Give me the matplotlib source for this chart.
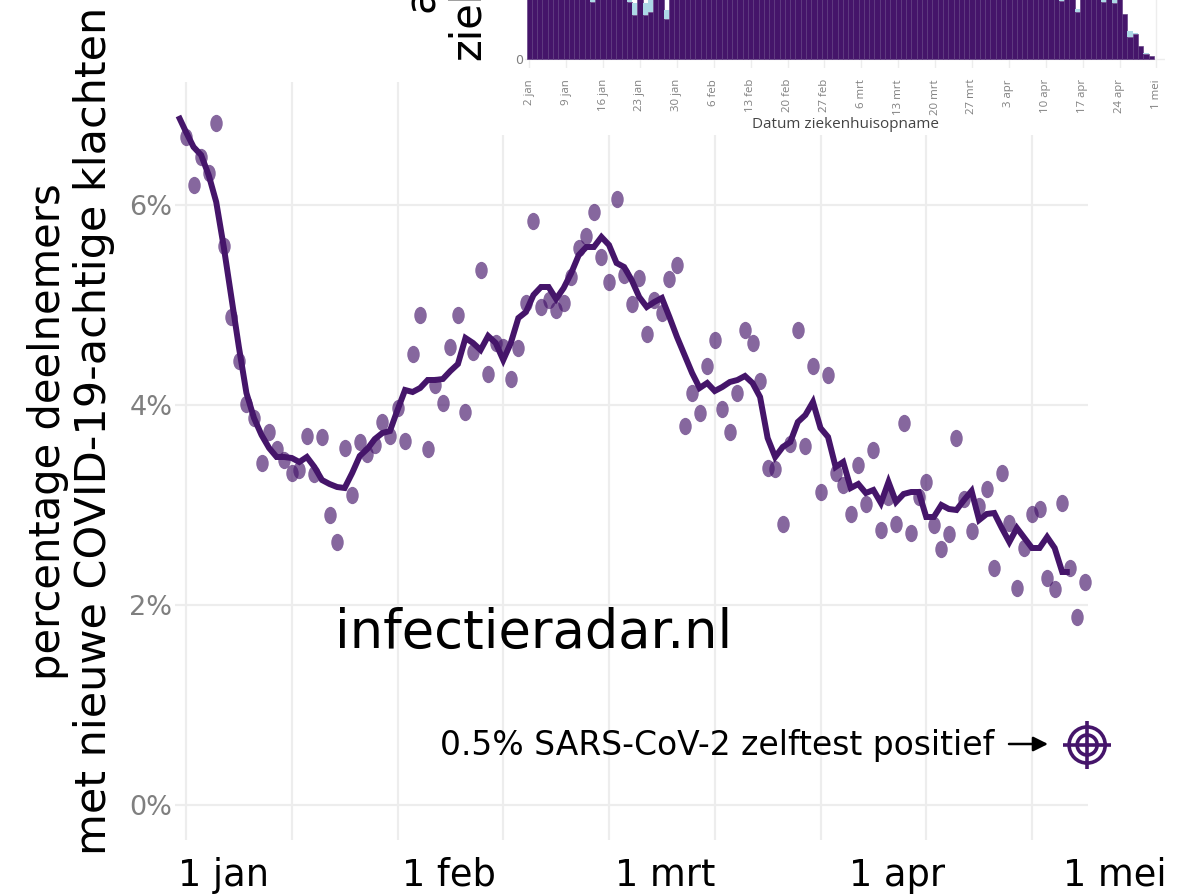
import matplotlib
matplotlib.use("Agg")
import matplotlib.pyplot as plt
from matplotlib.patches import Rectangle
from matplotlib.path import Path
from matplotlib.transforms import Affine2D

plt.rcParams["font.family"] = ["DejaVu Sans"]

W, H = 1189, 896
PURPLE = "#45156A"
GRID = "#EDEDED"
GREY = "#7F7F7F"

# ---- main chart data: daily share of participants (%) ----
points_pct = [
    6.68, 6.20, 6.48, 6.32, 6.82, 5.59, 4.88, 4.44, 4.01, 3.87,
    3.42, 3.73, 3.56, 3.45, 3.32, 3.35, 3.69, 3.31, 3.68, 2.90,
    2.63, 3.57, 3.10, 3.63, 3.51, 3.60, 3.83, 3.69, 3.97, 3.64,
    4.51, 4.90, 3.56, 4.20, 4.02, 4.58, 4.90, 3.93, 4.53, 5.35,
    4.31, 4.62, 4.58, 4.26, 4.57, 5.02, 5.84, 4.98, 5.05, 4.95,
    5.02, 5.28, 5.57, 5.69, 5.93, 5.48, 5.23, 6.06, 5.30, 5.01,
    5.27, 4.71, 5.05, 4.92, 5.26, 5.40, 3.79, 4.12, 3.92, 4.39,
    4.65, 3.96, 3.73, 4.12, 4.75, 4.62, 4.24, 3.37, 3.36, 2.81,
    3.61, 4.75, 3.59, 4.39, 3.13, 4.30, 3.32, 3.20, 2.91, 3.40,
    3.01, 3.55, 2.75, 3.08, 2.81, 3.82, 2.72, 3.08, 3.23, 2.80,
    2.56, 2.71, 3.67, 3.06, 2.74, 2.99, 3.16, 2.37, 3.32, 2.82,
    2.17, 2.57, 2.91, 2.96, 2.27, 2.16, 3.02, 2.37, 1.88, 2.23,
]
trend_pct = [
    6.89, 6.73, 6.58, 6.50, 6.30, 6.03, 5.58, 5.08, 4.58, 4.12,
    3.87, 3.70, 3.57, 3.48, 3.48, 3.47, 3.43, 3.48, 3.38, 3.25,
    3.21, 3.18, 3.17, 3.32, 3.49, 3.56, 3.66, 3.72, 3.74, 3.95,
    4.15, 4.13, 4.17, 4.25, 4.25, 4.26, 4.34, 4.41, 4.67, 4.62,
    4.55, 4.69, 4.62, 4.45, 4.62, 4.87, 4.93, 5.10, 5.18, 5.18,
    5.06, 5.17, 5.32, 5.50, 5.58, 5.58, 5.68, 5.60, 5.42, 5.38,
    5.25, 5.08, 4.98, 5.03, 5.07, 4.88, 4.68, 4.50, 4.32, 4.17,
    4.22, 4.14, 4.18, 4.23, 4.25, 4.29, 4.22, 4.08, 3.67, 3.48,
    3.58, 3.63, 3.83, 3.90, 4.03, 3.77, 3.68, 3.38, 3.43, 3.17,
    3.21, 3.12, 3.15, 3.02, 3.23, 3.03, 3.11, 3.13, 3.13, 2.88,
    2.88, 3.00, 2.96, 2.95, 3.05, 3.14, 2.85, 2.91, 2.92, 2.77,
    2.63, 2.77, 2.67, 2.57, 2.57, 2.68, 2.57, 2.33, 2.33,
]
grid_days = [0, 14, 28, 42, 56, 70, 84, 98, 112]
y_ticks = [0, 2, 4, 6]
y_tick_labels = ["0%", "2%", "4%", "6%"]
month_labels = ["1 jan", "1 feb", "1 mrt", "1 apr", "1 mei"]
month_label_days = [4.9, 34.8, 63.4, 94.1, 123.0]
selftest_day = 119.3
selftest_pct = 0.6

# ---- inset data: hospital admissions per day (above the crop: estimates) ----
adm_dark = [
    66, 64, 68, 65, 63, 67, 70, 66, 64, 62, 65, 68, 57, 63, 66, 64, 62, 67, 65, 57,
    44, 62, 44, 47, 64, 66, 40, 63, 65, 68, 66, 64, 62, 67, 65, 63, 68, 66, 64, 62,
    65, 67, 63, 66, 64, 68, 62, 65, 63, 67, 66, 64, 62, 65, 68, 63, 66, 64, 67, 62,
    65, 63, 68, 66, 64, 62, 67, 65, 63, 66, 64, 68, 62, 65, 67, 63, 66, 64, 62, 65,
    68, 63, 66, 64, 67, 62, 65, 63, 68, 66, 64, 62, 67, 65, 63, 66, 64, 68, 62, 65,
    63, 58, 66, 64, 47, 65, 63, 62, 64, 57, 63, 56, 62, 45, 22, 25, 13, 5, 3,
]
adm_light = [
    0, 0, 0, 0, 0, 0, 0, 0, 0, 0, 0, 0, 4, 0, 0, 0, 0, 0, 0, 4,
    12, 0, 12, 14, 0, 0, 9, 0, 0, 0, 0, 0, 0, 0, 0, 0, 0, 0, 0, 0,
    0, 0, 0, 0, 0, 0, 0, 0, 0, 0, 0, 0, 0, 0, 0, 0, 0, 0, 0, 0,
    0, 0, 0, 0, 0, 0, 0, 0, 0, 0, 0, 0, 0, 0, 0, 0, 0, 0, 0, 0,
    0, 0, 0, 0, 0, 0, 0, 0, 0, 0, 0, 0, 0, 0, 0, 0, 0, 0, 0, 0,
    0, 3, 0, 0, 3, 0, 0, 0, 0, 4, 0, 5, 0, 0, 6, 1.5, 0, 1.5, 0,
]
week_days = [0, 7, 14, 21, 28, 35, 42, 49, 56, 63, 70, 77, 84, 91, 98, 105, 112, 119]
week_labels = ["2 jan", "9 jan", "16 jan", "23 jan", "30 jan", "6 feb", "13 feb", "20 feb",
               "27 feb", "6 mrt", "13 mrt", "20 mrt", "27 mrt", "3 apr", "10 apr",
               "17 apr", "24 apr", "1 mei"]


def fx(px):
    return px / W


def fy(py):
    return 1 - py / H


fig = plt.figure(figsize=(W / 100, H / 100), dpi=100, facecolor="white")

# ---------- main axes ----------
left, right, top, bottom = 175, 1088, 82, 840
ax = fig.add_axes([fx(left), fy(bottom), fx(right - left), (bottom - top) / H])
PX_DAY = 105.75 / 14
for s in ax.spines.values():
    s.set_visible(False)
ax.set_xticks(grid_days)
ax.set_xticklabels([])
ax.set_yticks(y_ticks, y_tick_labels)
ax.tick_params(axis="x", which="major", length=0)
ax.tick_params(axis="y", length=0, pad=2, labelsize=19.5, labelcolor=GREY)
ax.grid(True, which="major", color=GRID, linewidth=1.6)
ax.set_axisbelow(True)

dot = Path.unit_circle().transformed(Affine2D().scale(0.72, 1.0))
ax.scatter(range(len(points_pct)), points_pct, marker=dot, s=155, color=PURPLE,
           alpha=0.65, linewidths=0, clip_on=False, zorder=3)
ax.plot(range(-1, len(trend_pct) - 1), trend_pct, color=PURPLE, linewidth=4.3,
        solid_joinstyle="miter", solid_capstyle="butt", clip_on=False, zorder=4)

# self-test target symbol
for size in (676, 207):
    ax.scatter([selftest_day], [selftest_pct], s=size, facecolors="none",
               edgecolors=PURPLE, linewidths=2.6, clip_on=False, zorder=4)
ax.plot([selftest_day], [selftest_pct], marker="+", markersize=35, markeredgewidth=2.6,
        color=PURPLE, clip_on=False, zorder=4)

ax.set_xlim((left - 186) / PX_DAY, (right - 186) / PX_DAY)
ax.set_ylim((805 - bottom) / 100, (805 - top) / 100)

# month labels below the plot
label_y = (805 - 875) / 100
for d, lab in zip(month_label_days, month_labels):
    ax.text(d, label_y, lab, fontsize=26.5, color="black", ha="center", va="center", clip_on=False)

fig.text(fx(335), fy(633), "infectieradar.nl", fontsize=38, color="black",
         ha="left", va="center", zorder=5)
fig.text(fx(440), fy(745), "0.5% SARS-CoV-2 zelftest positief", fontsize=23.8,
         color="black", ha="left", va="center", zorder=5)
ax.annotate("", xy=(fx(1048), fy(744)), xytext=(fx(1009), fy(744)),
            xycoords="figure fraction", textcoords="figure fraction",
            arrowprops=dict(arrowstyle="-|>", color="black", lw=1.8, mutation_scale=22,
                            shrinkA=0, shrinkB=0), annotation_clip=False)

# main y-axis title, two lines
fig.text(fx(60), fy(680), "percentage deelnemers", fontsize=30.1, rotation=90,
         rotation_mode="anchor", ha="left", va="baseline", color="black", zorder=5)
fig.text(fx(106), fy(855), "met nieuwe COVID-19-achtige klachten", fontsize=31, rotation=90,
         rotation_mode="anchor", ha="left", va="baseline", color="black", zorder=5)

# ---------- white panel behind the pasted inset ----------
fig.add_artist(Rectangle((fx(400), fy(135)), fx(W - 400), 135 / H, transform=fig.transFigure,
                         facecolor="white", edgecolor="none", zorder=1))

# ---------- inset ----------
in_left, in_right, in_bottom = 525, 1165, 68
ins = fig.add_axes([fx(in_left), fy(in_bottom), fx(in_right - in_left), in_bottom / H], zorder=2)
PX_BAR = 5.27
ins.patch.set_alpha(0)
for s in ins.spines.values():
    s.set_visible(False)
days = list(range(len(adm_dark)))
ins.bar(days, adm_dark, width=1.0, color=PURPLE, edgecolor="#5F3B80", linewidth=0.45, zorder=3)
ins.bar(days, adm_light, bottom=adm_dark, width=1.0, color="#ADD8E6", linewidth=0, zorder=3)
ins.set_xticks(week_days, week_labels, rotation=90, family="Open Sans")
ins.set_yticks([0], ["0"])
ins.tick_params(axis="x", length=0, pad=8, labelsize=8.2, labelcolor=GREY)
ins.tick_params(axis="y", length=0, pad=1, labelsize=9, labelcolor=GREY)
ins.grid(True, color=GRID, linewidth=1.0)
ins.set_axisbelow(True)
ins.set_xlim((in_left - 529.3) / PX_BAR, (in_right - 529.3) / PX_BAR)
ins.set_ylim(59.5 - in_bottom, 59.5)

fig.text(fx(846), fy(125), "Datum ziekenhuisopname", family="Open Sans", fontsize=11,
         color="#444444", ha="center", va="center", zorder=5)
fig.text(fx(433), fy(12), "aantal", fontsize=30, rotation=90, rotation_mode="anchor",
         ha="left", va="baseline", color="black", zorder=5)
fig.text(fx(480), fy(60), "ziekenhuisopnames", fontsize=30, rotation=90, rotation_mode="anchor",
         ha="left", va="baseline", color="black", zorder=5)

fig.savefig("out.png", dpi=100, facecolor="white")
